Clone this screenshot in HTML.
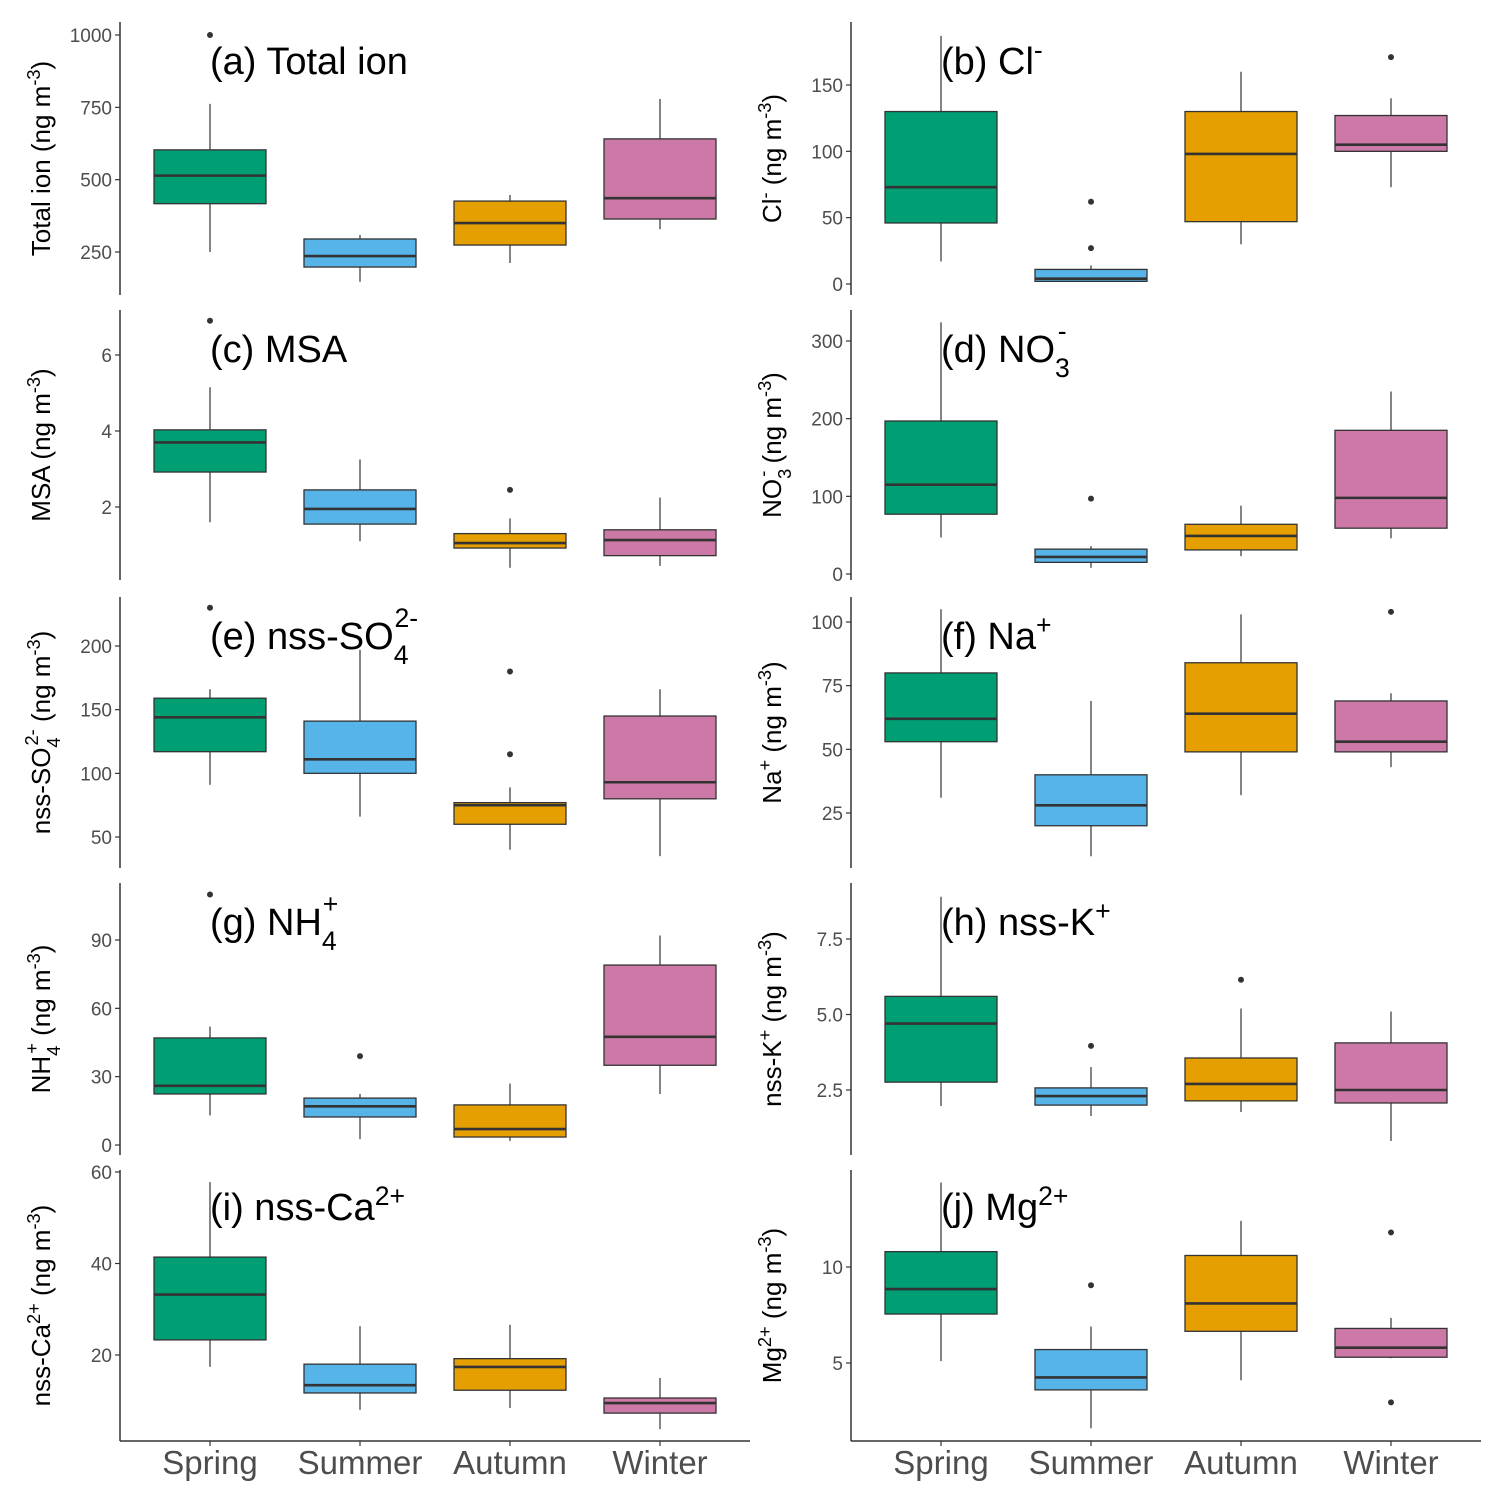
<!DOCTYPE html>
<html><head><meta charset="utf-8"><style>
html,body{margin:0;padding:0;background:#fff}
svg{display:block;font-family:"Liberation Sans",Arial,sans-serif}
</style></head><body>
<svg id="fig" width="1504" height="1504" viewBox="0 0 1504 1504" xmlns="http://www.w3.org/2000/svg"></svg>
<script>
const seasons=["Spring","Summer","Autumn","Winter"];
const seasonColors=["#009E73","#56B4E9","#E69F00","#CC79A7"];
// [low whisker, q1, median, q3, high whisker]
const boxA=[[250,417,514,603,762],[147,198,236,295,309],[212,274,350,426,447],[329,364,436,641,779]];
const outA=[[1000],[],[],[]];
const boxB=[[17,46,73,130,187],[2,2,4,11,14],[30,47,98,130,160],[73,100,105,127,140]];
const outB=[[],[62,27],[],[171]];
const boxC=[[1.6,2.92,3.7,4.03,5.15],[1.1,1.55,1.95,2.45,3.25],[0.4,0.92,1.05,1.3,1.7],[0.45,0.72,1.13,1.4,2.25]];
const outC=[[6.9],[],[2.45],[]];
const boxD=[[47,77,115,197,324],[8,15,22,32,36],[23,31,49,64,88],[46,59,98,185,235]];
const outD=[[],[97],[],[]];
const boxE=[[91,117,144,159,166],[66,100,111,141,197],[40,60,75,77,89],[35,80,93,145,166]];
const outE=[[230],[],[115,180],[]];
const boxF=[[31,53,62,80,105],[8,20,28,40,69],[32,49,64,84,103],[43,49,53,69,72]];
const outF=[[],[],[],[104]];
const boxG=[[13,22.4,26,47,52],[2.6,12.3,17,20.6,22.4],[1.8,3.5,7,17.6,27],[22.4,35,47.5,79,92]];
const outG=[[110],[39],[],[]];
const boxH=[[1.97,2.76,4.7,5.6,8.9],[1.64,2.0,2.3,2.57,3.26],[1.77,2.14,2.7,3.56,5.2],[0.81,2.07,2.5,4.06,5.1]];
const outH=[[],[3.96],[6.15],[]];
const boxI=[[17.4,23.3,33.2,41.4,57.8],[8,11.7,13.4,18,26.3],[8.4,12.3,17.4,19.2,26.6],[3.8,7.3,9.5,10.6,15]];
const outI=[[],[],[],[]];
const boxJ=[[5.1,7.55,8.85,10.8,14.4],[1.6,3.6,4.25,5.7,6.9],[4.1,6.65,8.1,10.6,12.4],[5.25,5.3,5.8,6.8,7.35]];
const outJ=[[],[9.05],[],[11.8,2.95]];
const ticksA=[250,500,750,1000], ticksB=[0,50,100,150], ticksC=[2,4,6], ticksD=[0,100,200,300],
 ticksE=[50,100,150,200], ticksF=[25,50,75,100], ticksG=[0,30,60,90], ticksH=[2.5,5.0,7.5], ticksI=[20,40,60], ticksJ=[5,10];
const tickFmtH=v=>v.toFixed(1);

const sup=s=>`<tspan baseline-shift="super" font-size="70%">${s}</tspan>`;
const sub=s=>`<tspan baseline-shift="sub" font-size="70%">${s}</tspan>`;
const unit=`(ng m${sup("-3")})`;
const panels=[
 {id:"a",col:0,row:0,box:boxA,out:outA,ticks:ticksA,cal:[1000,35,250,252],title:"(a) Total ion",ylab:"Total ion "+unit},
 {id:"b",col:1,row:0,box:boxB,out:outB,ticks:ticksB,cal:[150,85,0,284],title:"(b) Cl"+sup("-"),ylab:"Cl"+sup("-")+" "+unit},
 {id:"c",col:0,row:1,box:boxC,out:outC,ticks:ticksC,cal:[6,355,2,507],title:"(c) MSA",ylab:"MSA "+unit},
 {id:"d",col:1,row:1,box:boxD,out:outD,ticks:ticksD,cal:[300,341,0,574],title:"(d) NO"+sub("3")+`<tspan dx="-12" dy="-22" font-size="70%">-</tspan>`,ylab:"NO"+sub("3")+`<tspan dx="-8" dy="-12" font-size="70%">-</tspan><tspan dy="12"> </tspan>`+unit},
 {id:"e",col:0,row:2,box:boxE,out:outE,ticks:ticksE,cal:[200,646,50,837],title:"(e) nss-SO"+sub("4")+`<tspan dx="-14" dy="-22" font-size="70%">2-</tspan>`,ylab:"nss-SO"+sub("4")+`<tspan dx="-8" dy="-12" font-size="70%">2-</tspan><tspan dy="12"> </tspan>`+unit},
 {id:"f",col:1,row:2,box:boxF,out:outF,ticks:ticksF,cal:[100,622,25,813],title:"(f) Na"+sup("+"),ylab:"Na"+sup("+")+" "+unit},
 {id:"g",col:0,row:3,box:boxG,out:outG,ticks:ticksG,cal:[90,940,0,1145],title:"(g) NH"+sub("4")+`<tspan dx="-14" dy="-22" font-size="70%">+</tspan>`,ylab:"NH"+sub("4")+`<tspan dx="-8" dy="-12" font-size="70%">+</tspan><tspan dy="12"> </tspan>`+unit},
 {id:"h",col:1,row:3,box:boxH,out:outH,ticks:ticksH,fmt:tickFmtH,cal:[7.5,939,2.5,1090],title:"(h) nss-K"+sup("+"),ylab:"nss-K"+sup("+")+" "+unit},
 {id:"i",col:0,row:4,box:boxI,out:outI,ticks:ticksI,cal:[60,1172,20,1355],title:"(i) nss-Ca"+sup("2+"),ylab:"nss-Ca"+sup("2+")+" "+unit},
 {id:"j",col:1,row:4,box:boxJ,out:outJ,ticks:ticksJ,cal:[10,1267,5,1363],title:"(j) Mg"+sup("2+"),ylab:"Mg"+sup("2+")+" "+unit}
];
const rowSpans=[[22,295],[310,580],[597,868],[883,1155],[1170,1441]];
const axisX=[120,851];
const catX0=[210,941], catStep=150, boxW=112;
const NS="http://www.w3.org/2000/svg";
const svg=document.getElementById("fig");
function mk(tag,attrs,parent){const e=document.createElementNS(NS,tag);for(const k in attrs)e.setAttribute(k,attrs[k]);(parent||svg).appendChild(e);return e;}

panels.forEach(p=>{
 const g=mk("g",{});
 
 
 const [v1,p1,v2,p2]=p.cal;
 const y=v=>p1+(v-v1)*(p2-p1)/(v2-v1);
 const ax=axisX[p.col], [top,bot]=rowSpans[p.row];
 const xc=i=>catX0[p.col]+i*catStep;
 const yaxis=mk("line",{x1:ax,x2:ax,y1:top,y2:bot,stroke:"#333","stroke-width":1.5},g);
 
 
 p.ticks.forEach(t=>{
  const tl=mk("line",{x1:ax-5,x2:ax,y1:y(t),y2:y(t),stroke:"#333","stroke-width":1.2},g);
  
  
  const tx=mk("text",{x:ax-8,y:y(t)+7,"text-anchor":"end","font-size":19,fill:"#4d4d4d"},g);
  tx.textContent=p.fmt?p.fmt(t):String(t);
  
  
 });
 const yl=mk("text",{transform:`translate(${ax-70},${(top+bot)/2}) rotate(-90)`,"text-anchor":"middle","font-size":26,fill:"#000"},g);
 yl.innerHTML=p.ylab;
 
 
 p.box.forEach((b,i)=>{
  const [lo,q1,md,q3,hi]=b;
  const w=mk("line",{x1:xc(i),x2:xc(i),y1:y(lo),y2:y(hi),stroke:"#333","stroke-width":1.2},g);
  
  
  const r=mk("rect",{x:xc(i)-boxW/2,y:y(q3),width:boxW,height:y(q1)-y(q3),fill:seasonColors[i],stroke:"#333","stroke-width":1.3},g);
  
  
  const m=mk("line",{x1:xc(i)-boxW/2,x2:xc(i)+boxW/2,y1:y(md),y2:y(md),stroke:"#333","stroke-width":2.6},g);
  
  
  p.out[i].forEach(o=>{
   const c=mk("circle",{cx:xc(i),cy:y(o),r:3,fill:"#333"},g);
   
   
  });
 });
 const t=mk("text",{x:catX0[p.col],y:top+(p.row===4?50:52),"font-size":38,fill:"#000"},g);
 t.innerHTML=p.title;
 
 
 if(p.row===4){
  const xa=mk("line",{x1:ax,x2:ax+630,y1:bot,y2:bot,stroke:"#333","stroke-width":1.5},g);
  
  
  seasons.forEach((s,i)=>{
   const tk=mk("line",{x1:xc(i),x2:xc(i),y1:bot,y2:bot+5,stroke:"#333","stroke-width":1.2},g);
   
   
   const lb=mk("text",{x:xc(i),y:bot+33,"text-anchor":"middle","font-size":33,fill:"#4d4d4d"},g);
   lb.textContent=s;
   
   
  });
 }
});
</script>
</body></html>
